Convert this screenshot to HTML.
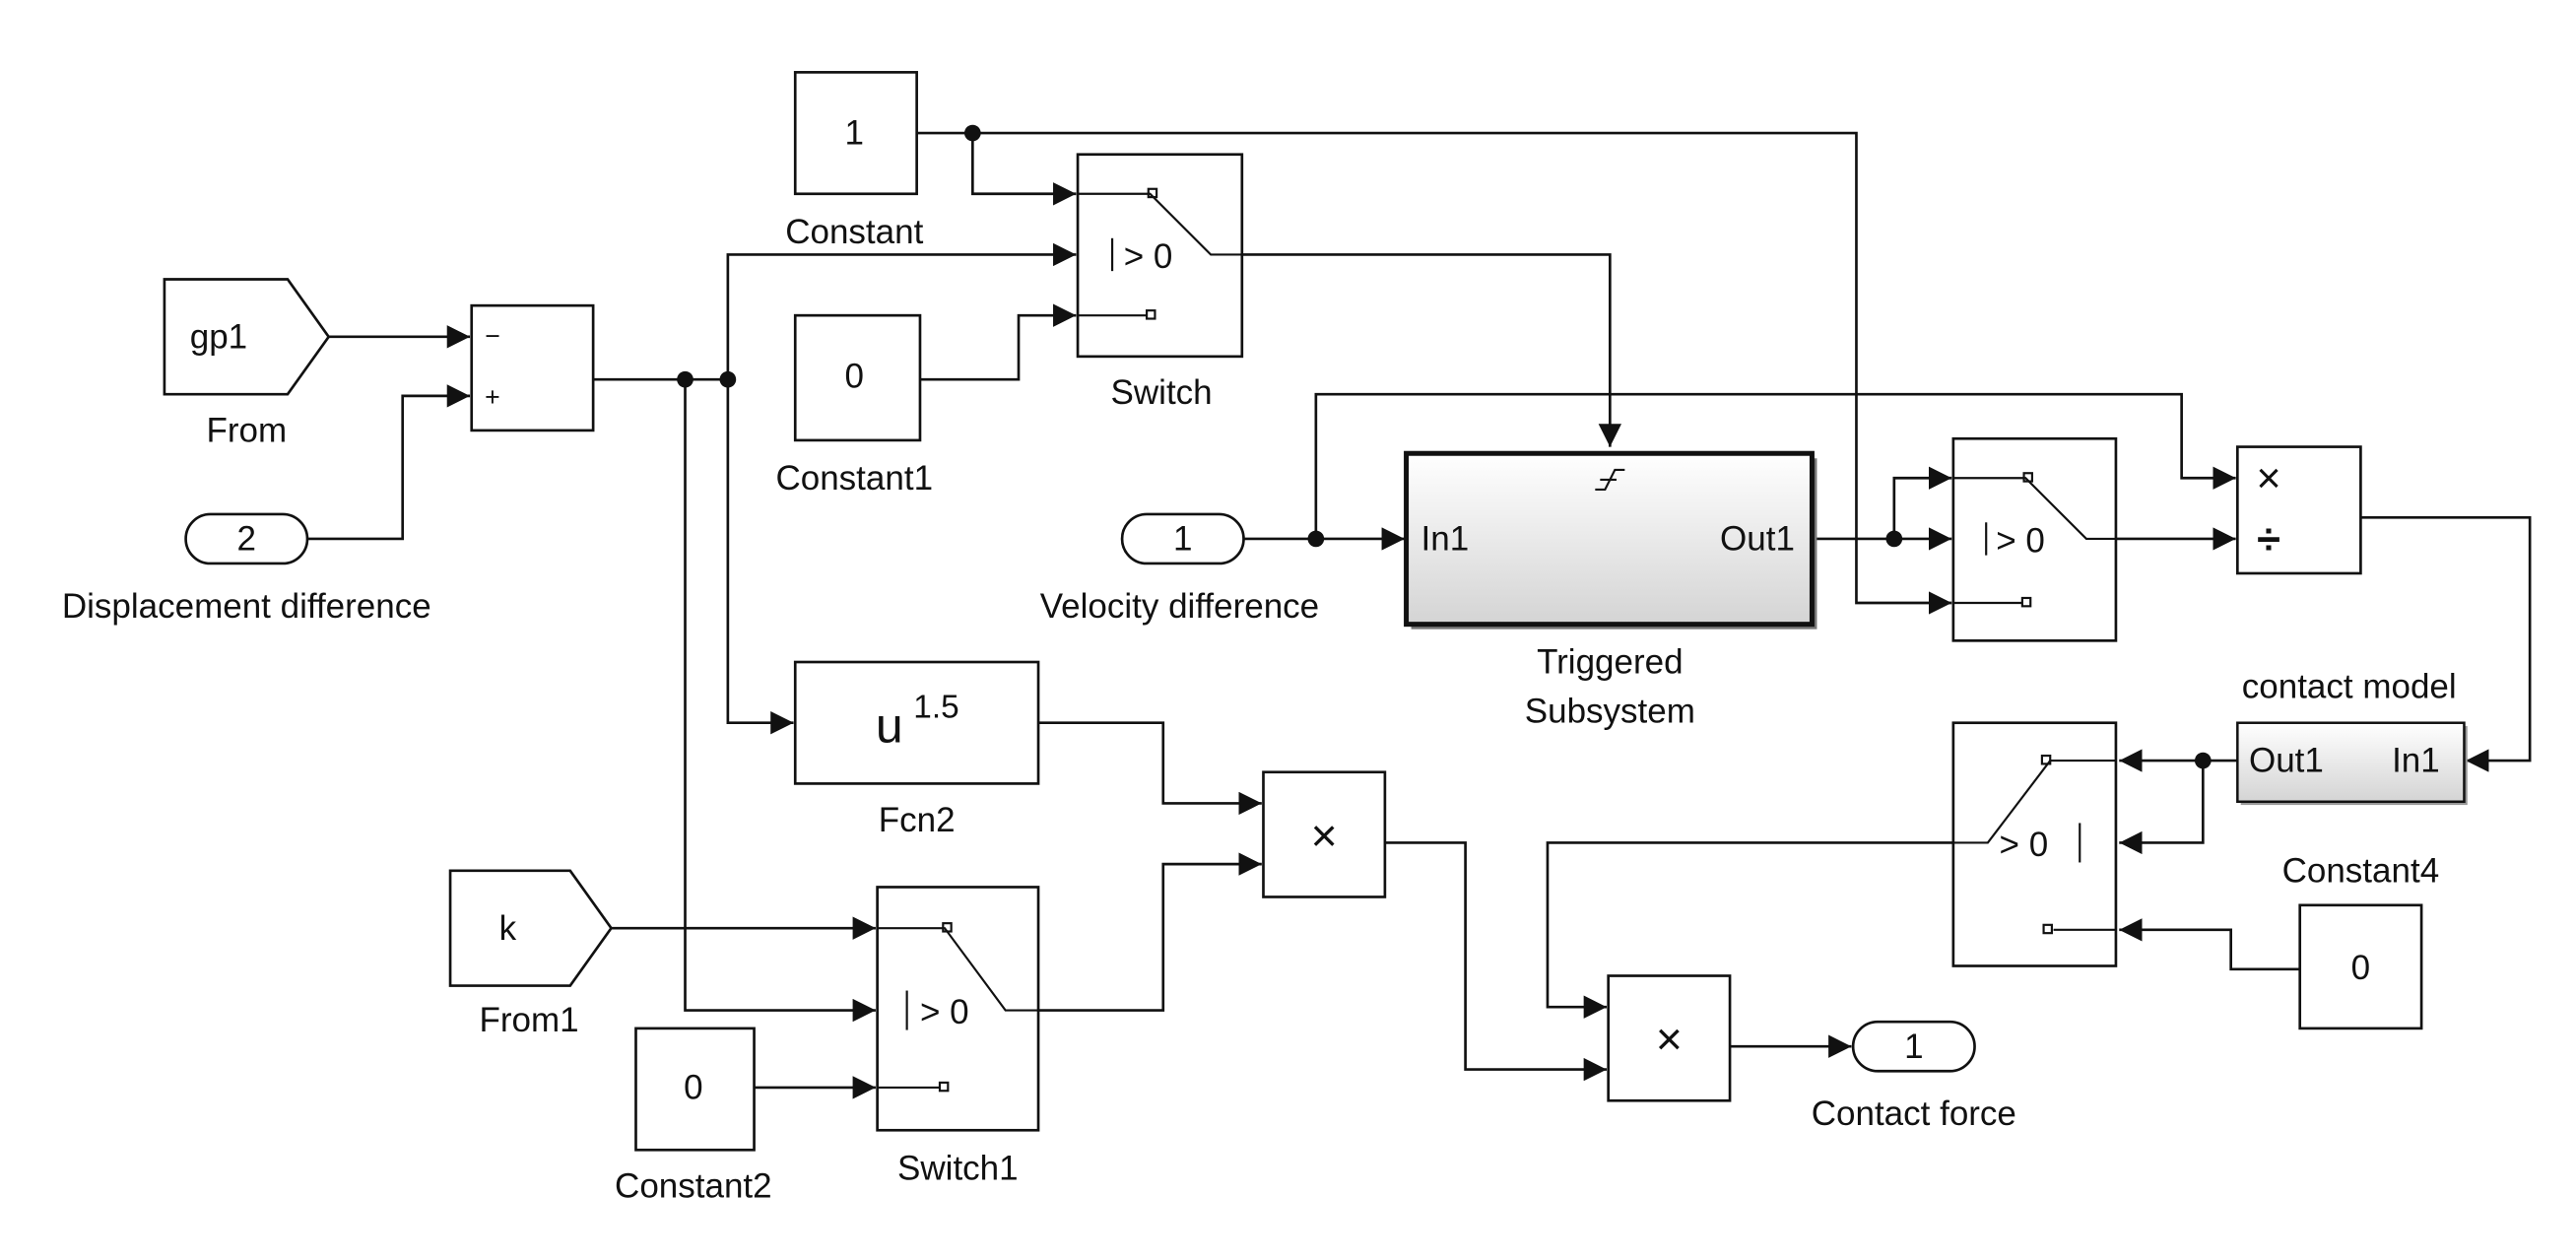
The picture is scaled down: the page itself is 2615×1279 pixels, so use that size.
<!DOCTYPE html>
<html><head><meta charset="utf-8"><style>
html,body{margin:0;padding:0;background:#fff;}
svg{display:block;}
text{font-family:"Liberation Sans",Arial,sans-serif;fill:#111;}
</style></head><body>
<svg width="2615" height="1279" viewBox="0 0 1568 767" xmlns="http://www.w3.org/2000/svg">
<defs>
<marker id="a" viewBox="0 0 10 10" refX="10" refY="5" markerWidth="14" markerHeight="14" markerUnits="userSpaceOnUse" orient="auto"><path d="M0,0L10,5L0,10z" fill="#111"/></marker>
<linearGradient id="g" x1="0" y1="0" x2="0" y2="1"><stop offset="0" stop-color="#fff"/><stop offset="1" stop-color="#d4d4d4"/></linearGradient>
</defs>
<g fill="none" stroke="#111" stroke-width="1.6">
<rect x="484" y="44" width="74" height="74"/>
<rect x="656" y="94" width="100" height="123"/>
<rect x="484" y="192" width="76" height="76"/>
<path d="M100,170H175L200,205L175,240H100Z"/>
<rect x="287" y="186" width="74" height="76"/>
<rect x="113" y="313" width="74" height="30" rx="15"/>
<rect x="484" y="403" width="148" height="74"/>
<rect x="769" y="470" width="74" height="76"/>
<path d="M274,530H347L372,565L347,600H274Z"/>
<rect x="534" y="540" width="98" height="148"/>
<rect x="387" y="626" width="72" height="74"/>
<rect x="979" y="594" width="74" height="76"/>
<rect x="1128" y="622" width="74" height="30" rx="15"/>
<rect x="683" y="313" width="74" height="30" rx="15"/>
<rect x="1189" y="267" width="99" height="123"/>
<rect x="1362" y="272" width="75" height="77"/>
<rect x="1189" y="440" width="99" height="148"/>
<rect x="1400" y="551" width="74" height="75"/>
<path d="M558,81H1130V367H1188" marker-end="url(#a)"/>
<path d="M592,81V118H655" marker-end="url(#a)"/>
<path d="M756,155H980V272" marker-end="url(#a)"/>
<path d="M560,231H620V192H655" marker-end="url(#a)"/>
<path d="M200,205H286" marker-end="url(#a)"/>
<path d="M187,328H245V241H286" marker-end="url(#a)"/>
<path d="M361,231H443"/>
<path d="M443,231V155H655" marker-end="url(#a)"/>
<path d="M443,231V440H483" marker-end="url(#a)"/>
<path d="M417,231V615H533" marker-end="url(#a)"/>
<path d="M632,440H708V489H768" marker-end="url(#a)"/>
<path d="M372,565H533" marker-end="url(#a)"/>
<path d="M632,615H708V526H768" marker-end="url(#a)"/>
<path d="M459,662H533" marker-end="url(#a)"/>
<path d="M843,513H892V651H978" marker-end="url(#a)"/>
<path d="M1053,637H1127" marker-end="url(#a)"/>
<path d="M757,328H855" marker-end="url(#a)"/>
<path d="M801,328V240H1328V291H1361" marker-end="url(#a)"/>
<path d="M1103,328H1188" marker-end="url(#a)"/>
<path d="M1153,328V291H1188" marker-end="url(#a)"/>
<path d="M1288,328H1361" marker-end="url(#a)"/>
<path d="M1437,315H1540V463H1501" marker-end="url(#a)"/>
<path d="M1362,463H1290" marker-end="url(#a)"/>
<path d="M1341,463V513H1290" marker-end="url(#a)"/>
<path d="M1189,513H942V613H978" marker-end="url(#a)"/>
<path d="M1400,590H1358V566H1290" marker-end="url(#a)"/>
<g stroke-width="1.3">
<path d="M656,118H700L737,155H756"/><rect x="699" y="115" width="5" height="5"/>
<path d="M656,192H698"/><rect x="698" y="189" width="5" height="5"/><path d="M677,145V165"/>
<path d="M534,565H575L612,615H632"/><rect x="574" y="562" width="5" height="5"/>
<path d="M534,662H572"/><rect x="572" y="659" width="5" height="5"/><path d="M552,603V627"/>
<path d="M1189,291H1233L1270,328H1288"/><rect x="1232" y="288" width="5" height="5"/>
<path d="M1189,367H1231"/><rect x="1231" y="364" width="5" height="5"/><path d="M1209,318V338"/>
<path d="M1288,463H1248L1210,513H1189"/><rect x="1243" y="460" width="5" height="5"/>
<path d="M1288,566H1250"/><rect x="1244" y="563" width="5" height="5"/><path d="M1266,501V525"/>
</g>
</g>
<rect x="859" y="279" width="247" height="104" fill="#777"/>
<rect x="856" y="276" width="247" height="104" fill="url(#g)" stroke="#111" stroke-width="3"/>
<path d="M971,298H977L983,286H989M974,292L984,292" stroke="#111" stroke-width="1.3" fill="none"/>
<rect x="1364" y="442" width="138" height="48" fill="#999"/>
<rect x="1362" y="440" width="138" height="48" fill="url(#g)" stroke="#111" stroke-width="1.5"/>
<g fill="#111"><circle cx="592" cy="81" r="5"/><circle cx="417" cy="231" r="5"/><circle cx="443" cy="231" r="5"/><circle cx="801" cy="328" r="5"/><circle cx="1153" cy="328" r="5"/><circle cx="1341" cy="463" r="5"/></g>
<g font-size="21" text-anchor="middle">
<text x="520" y="88">1</text><text x="520" y="148">Constant</text>
<text x="520" y="236">0</text><text x="520" y="298">Constant1</text>
<text x="707" y="246">Switch</text>
<text x="133" y="212">gp1</text><text x="150" y="269">From</text>
<text x="150" y="335">2</text><text x="150" y="376">Displacement difference</text>
<text x="558" y="506">Fcn2</text>
<text x="309" y="572">k</text><text x="322" y="628">From1</text>
<text x="583" y="718">Switch1</text>
<text x="422" y="669">0</text><text x="422" y="729">Constant2</text>
<text x="1165" y="644">1</text><text x="1165" y="685">Contact force</text>
<text x="720" y="335">1</text><text x="718" y="376">Velocity difference</text>
<text x="980" y="410">Triggered</text><text x="980" y="440">Subsystem</text>
<text x="1430" y="425">contact model</text>
<text x="1437" y="537">Constant4</text><text x="1437" y="596">0</text>
<text x="806" y="518" font-size="28">×</text><text x="1016" y="642" font-size="28">×</text>
<text x="1381" y="300" font-size="26">×</text><text x="1381" y="337" font-size="26" font-weight="bold">÷</text>
</g>
<g font-size="21">
<text x="684" y="163">&gt; 0</text><text x="560" y="623">&gt; 0</text><text x="1215" y="336">&gt; 0</text><text x="1217" y="521">&gt; 0</text>
<text x="865" y="335">In1</text><text x="1047" y="335">Out1</text>
<text x="1369" y="470">Out1</text><text x="1456" y="470">In1</text>
<text x="295" y="210" font-size="16">−</text><text x="295" y="247" font-size="16">+</text>
</g>
<text x="533" y="452" font-family="Liberation Serif,serif" font-size="30">u</text>
<text x="556" y="437" font-family="Liberation Serif,serif" font-size="20">1.5</text>
</svg>
</body></html>
